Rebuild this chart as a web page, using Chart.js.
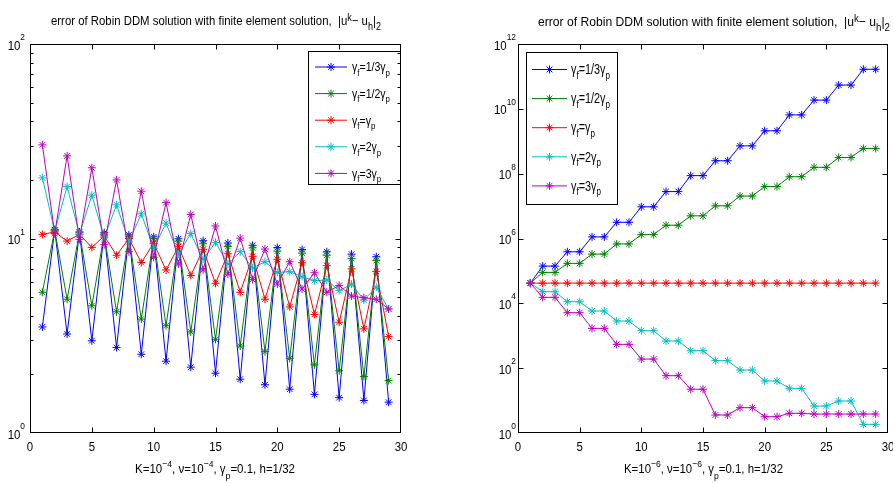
<!DOCTYPE html>
<html>
<head>
<meta charset="utf-8">
<script src="https://cdn.jsdelivr.net/npm/chart.js@4.4.0/dist/chart.umd.min.js"></script>
<style>
html,body{margin:0;padding:0;background:#fff;}
#wrap{position:relative;width:893px;height:483px;overflow:hidden;background:#fff;}
#wrap canvas{position:absolute;top:0;}
</style>
</head>
<body>
<div id="wrap">
  <canvas id="leftPlot" width="446" height="483" style="left:0"></canvas>
  <canvas id="rightPlot" width="447" height="483" style="left:446px"></canvas>
</div>
<script>

// ---- data ----
let iterations = [1,2,3,4,5,6,7,8,9,10,11,12,13,14,15,16,17,18,19,20,21,22,23,24,25,26,27,28,29];
let xTickValues = [0,5,10,15,20,25,30];
let leftDecades = [0,1,2];
let rightDecades = [0,2,4,6,8,10,12];

let seriesNames = ["γ_f=1/3γ_p","γ_f=1/2γ_p","γ_f=γ_p","γ_f=2γ_p","γ_f=3γ_p"];
let seriesColors = ["#0000ff","#008000","#ff0000","#00bfbf","#bf00bf"];

let titleText = "error of Robin DDM solution with finite element solution,  |u^k− u_h|_2";
let leftXLabel = "K=10^{−4}, ν=10^{−4}, γ_p=0.1, h=1/32";
let rightXLabel = "K=10^{−6}, ν=10^{−6}, γ_p=0.1, h=1/32";

// left panel, K = 1e-4
let leftThird  = [3.51,11.1,3.23,10.8,2.98,10.7,2.75,10.45,2.54,10.2,2.34,9.97,2.18,9.74,2.03,9.48,1.89,9.23,1.77,8.98,1.68,8.78,1.58,8.55,1.52,8.31,1.47,8.06,1.44];
let leftHalf   = [5.29,11.0,4.87,10.7,4.51,10.5,4.2,10.2,3.85,10.0,3.56,9.7,3.31,9.4,3.03,9.1,2.8,8.95,2.62,8.6,2.42,8.4,2.24,8.2,2.09,7.9,1.95,7.7,1.86];
let leftSame   = [10.5,10.8,9.7,10.5,9.0,10.3,8.2,10.0,7.52,9.45,6.89,9.08,6.45,8.8,5.88,8.35,5.29,8.1,4.87,7.82,4.45,7.51,4.07,7.25,3.71,6.98,3.43,6.78,3.13];
let leftDouble = [20.5,10.9,18.5,10.5,16.7,10.1,14.9,9.6,13.4,8.9,12.0,8.3,10.6,7.82,9.55,7.4,8.55,7.05,7.6,6.7,6.75,6.36,6.07,6.12,5.39,5.83,4.83,5.62,4.34];
let leftTriple = [30.3,10.6,26.6,9.9,23.1,9.3,20.0,8.55,17.5,8.0,15.3,7.4,13.3,6.9,11.6,6.55,10.05,6.15,8.83,5.83,7.6,5.5,6.67,5.29,5.74,5.06,4.96,4.87,4.34];

// right panel, K = 1e-6
let rightThird  = [4.2e4,1.41e5,1.41e5,3.89e5,3.89e5,1.12e6,1.12e6,3.16e6,3.16e6,9.5e6,9.5e6,2.8e7,2.8e7,8.7e7,8.7e7,2.5e8,2.5e8,7.2e8,7.2e8,2.1e9,2.1e9,6.5e9,6.5e9,1.86e10,1.86e10,5.4e10,5.4e10,1.66e11,1.66e11];
let rightHalf   = [4.2e4,9.0e4,9.0e4,1.71e5,1.71e5,3.3e5,3.3e5,6.8e5,6.8e5,1.32e6,1.32e6,2.57e6,2.57e6,5.0e6,5.0e6,1.02e7,1.02e7,2.04e7,2.04e7,4.0e7,4.0e7,8.05e7,8.05e7,1.57e8,1.57e8,3.16e8,3.16e8,6.0e8,6.0e8];
let rightSame   = [4.2e4,4.2e4,4.2e4,4.2e4,4.2e4,4.2e4,4.2e4,4.2e4,4.2e4,4.2e4,4.2e4,4.2e4,4.2e4,4.2e4,4.2e4,4.2e4,4.2e4,4.2e4,4.2e4,4.2e4,4.2e4,4.2e4,4.2e4,4.2e4,4.2e4,4.2e4,4.2e4,4.2e4,4.2e4];
let rightDouble = [4.2e4,2.29e4,2.29e4,1.12e4,1.12e4,5.8e3,5.8e3,2.85e3,2.85e3,1.43e3,1.43e3,689,689,346,346,170,170,87.7,87.7,40.2,40.2,23.9,23.9,6.8,6.8,9.7,9.7,1.85,1.85];
let rightTriple = [4.2e4,1.53e4,1.53e4,5.14e3,5.14e3,1.69e3,1.69e3,543,543,191,191,58.6,58.6,22.4,22.4,3.59,3.59,6.04,6.04,3.18,3.18,4.05,4.05,3.85,3.85,3.85,3.85,3.85,3.85];


// ---- tiny tex-ish text: ^x / ^{..} raised, _x / _{..} lowered ----
const FAMILY = '"Liberation Sans", Arial, Helvetica, sans-serif';

function font(size){ return size + "px " + FAMILY; }

function parseTex(s){
   let out = [], buf = "", i = 0;
   while(i < s.length){
      let c = s[i];
      if(c === "^" || c === "_"){
         if(buf){ out.push([buf,""]); buf = ""; }
         let t;
         if(s[i+1] === "{"){
            let j = s.indexOf("}", i+2);
            t = s.slice(i+2, j);
            i = j + 1;
         }else{
            t = s[i+1];
            i += 2;
         }
         out.push([t, c === "^" ? "sup" : "sub"]);
      }else{
         buf += c;
         i++;
      }
   }
   if(buf) out.push([buf,""]);
   return out;
}

function texWidth(ctx, parts, size, small){
   let w = 0;
   parts.forEach(function(p){
      ctx.font = font(p[1] ? size*small : size);
      w += ctx.measureText(p[0]).width;
   });
   return w;
}

// o: align, width (target) or sx, supDy, subDy, small
function drawTex(ctx, str, x, y, size, o){
   let parts = parseTex(str);
   let small = o.small || 0.75;
   let nat = texWidth(ctx, parts, size, small);
   let sx = o.width ? o.width / nat : (o.sx || 1);
   let w = nat * sx;
   let x0 = o.align === "center" ? x - w/2 : (o.align === "right" ? x - w : x);
   ctx.save();
   ctx.translate(x0, y);
   ctx.scale(sx, 1);
   ctx.fillStyle = "#000";
   ctx.textAlign = "left";
   ctx.textBaseline = "alphabetic";
   let cx = 0;
   parts.forEach(function(p){
      let fs = p[1] ? size*small : size;
      ctx.font = font(fs);
      let dy = p[1] === "sup" ? (o.supDy || -size*0.45) : (p[1] === "sub" ? (o.subDy || size*0.3) : 0);
      ctx.fillText(p[0], cx, dy);
      cx += ctx.measureText(p[0]).width;
   });
   ctx.restore();
   return sx;
}

function drawStar(ctx, x, y, r){
   let d = r * Math.SQRT1_2;
   ctx.beginPath();
   ctx.moveTo(x - r, y); ctx.lineTo(x + r, y);
   ctx.moveTo(x, y - r); ctx.lineTo(x, y + r);
   ctx.moveTo(x - d, y - d); ctx.lineTo(x + d, y + d);
   ctx.moveTo(x - d, y + d); ctx.lineTo(x + d, y - d);
   ctx.stroke();
}


// ---- frame, ticks, labels, legend (MATLAB look) ----
function framePlugin(cfg){

   return {
      id: "matlabFrame",
      afterDraw: function(chart){

         let ctx = chart.ctx;
         let area = chart.chartArea;
         let xs = chart.scales.x;
         let ys = chart.scales.y;

         ctx.save();
         ctx.translate(-cfg.ox, 0);   // work in page coordinates
         let ox = cfg.ox;

         let L = Math.round(area.left + ox) + 0.5;
         let R = Math.round(area.right + ox) - 0.5;
         let T = Math.round(area.top) + 0.5;
         let B = Math.round(area.bottom) - 0.5;

         // legend box
         let lg = cfg.legend;
         ctx.fillStyle = "#fff";
         ctx.fillRect(lg.x1, lg.y1, lg.x2 - lg.x1, lg.y2 - lg.y1);
         ctx.strokeStyle = "#000";
         ctx.lineWidth = 1;
         ctx.strokeRect(Math.round(lg.x1)+0.5, Math.round(lg.y1)+0.5,
                        Math.round(lg.x2 - lg.x1), Math.round(lg.y2 - lg.y1));

         let legendSx = null;
         seriesNames.forEach(function(name, i){
            let yy = lg.rowY + i * lg.rowStep;
            ctx.strokeStyle = seriesColors[i];
            ctx.lineWidth = 1;
            ctx.beginPath();
            ctx.moveTo(lg.lineX1, yy);
            ctx.lineTo(lg.lineX2, yy);
            ctx.stroke();
            drawStar(ctx, (lg.lineX1 + lg.lineX2)/2, yy, 4);
            let o = { align: "left", subDy: lg.size*0.33, small: 0.75 };
            if(legendSx === null) o.width = lg.textW; else o.sx = legendSx;
            let s = drawTex(ctx, name, lg.textX, yy + lg.size*0.34, lg.size, o);
            if(legendSx === null) legendSx = s;
         });

         // axes box
         ctx.strokeStyle = "#000";
         ctx.lineWidth = 1;
         ctx.strokeRect(L, T, R - L, B - T);

         // x ticks (inward, top and bottom) + labels
         ctx.beginPath();
         xTickValues.forEach(function(v){
            let px = Math.round(xs.getPixelForValue(v) + ox) + 0.5;
            if(v === 0) px = L;
            if(v === 30) px = R;
            ctx.moveTo(px, B); ctx.lineTo(px, B - 5);
            ctx.moveTo(px, T); ctx.lineTo(px, T + 5);
         });
         // y ticks
         cfg.decades.forEach(function(e){
            let py = Math.round(ys.getPixelForValue(Math.pow(10, e))) + 0.5;
            if(e === cfg.decades[0]) py = B;
            if(e === cfg.decades[cfg.decades.length-1]) py = T;
            ctx.moveTo(L, py); ctx.lineTo(L + 5, py);
            ctx.moveTo(R, py); ctx.lineTo(R - 5, py);
         });
         if(cfg.minor){
            for(let e = cfg.decades[0]; e < cfg.decades[cfg.decades.length-1]; e++){
               for(let m = 2; m <= 9; m++){
                  let py = Math.round(ys.getPixelForValue(m * Math.pow(10, e))) + 0.5;
                  ctx.moveTo(L, py); ctx.lineTo(L + 3, py);
                  ctx.moveTo(R, py); ctx.lineTo(R - 3, py);
               }
            }
         }
         ctx.stroke();

         xTickValues.forEach(function(v){
            let px = xs.getPixelForValue(v) + ox;
            drawTex(ctx, String(v), px, cfg.xTickY, cfg.tickSize, { align: "center", sx: cfg.tickSx });
         });

         cfg.decades.forEach(function(e){
            let py = ys.getPixelForValue(Math.pow(10, e));
            let right = area.left + ox - cfg.yLabelGap;
            ctx.font = font(cfg.expSize);
            let ew = ctx.measureText(String(e)).width * cfg.tickSx;
            drawTex(ctx, "10", right - ew, py + 5.5, cfg.tickSize, { align: "right", sx: cfg.tickSx });
            drawTex(ctx, String(e), right - ew, py - 4, cfg.expSize, { align: "left", sx: cfg.tickSx });
         });

         // title and x label
         let t = cfg.title;
         drawTex(ctx, titleText, t.x, t.y, t.size, { align: "center", width: t.width, supDy: -t.size*0.33, subDy: t.size*0.38, small: 0.8 });
         let xl = cfg.xlabel;
         drawTex(ctx, cfg.xlabelText, xl.x, xl.y, xl.size, { align: "center", width: xl.width, supDy: -xl.size*0.5, subDy: xl.size*0.45, small: 0.75 });

         ctx.restore();
      }
   };

}


function makeChart(id, series, cfg){

   let datasets = series.map(function(vals, i){
      return {
         label: seriesNames[i],
         data: iterations.map(function(k, j){ return { x: k, y: vals[j] }; }),
         borderColor: seriesColors[i],
         backgroundColor: seriesColors[i],
         pointBorderColor: seriesColors[i],
         borderWidth: 1,
         pointStyle: "star",
         pointRadius: 4,
         pointBorderWidth: 1,
         pointHoverRadius: 4,
         tension: 0,
         fill: false,
         order: 5 - i
      };
   });

   return new Chart(document.getElementById(id), {
      type: "line",
      data: { datasets: datasets },
      options: {
         responsive: false,
         animation: false,
         devicePixelRatio: 1,
         events: [],
         layout: { padding: { top: 44, right: cfg.padRight, bottom: 0, left: 0 } },
         plugins: {
            legend: { display: false },
            tooltip: { enabled: false }
         },
         scales: {
            x: {
               type: "linear", min: 0, max: 30,
               ticks: { display: false },
               grid: { display: false },
               border: { display: false },
               afterFit: function(s){ s.height = 50; }
            },
            y: {
               type: "logarithmic",
               min: Math.pow(10, cfg.decades[0]),
               max: Math.pow(10, cfg.decades[cfg.decades.length-1]),
               ticks: { display: false },
               grid: { display: false },
               border: { display: false },
               afterFit: function(s){ s.width = cfg.axisWidth; }
            }
         }
      },
      plugins: [framePlugin(cfg)]
   });

}


makeChart("leftPlot",
   [leftThird, leftHalf, leftSame, leftDouble, leftTriple],
   {
      ox: 0, axisWidth: 30, padRight: 45,
      decades: leftDecades, minor: true,
      tickSize: 13, expSize: 9.5, tickSx: 0.88, xTickY: 451, yLabelGap: 5,
      title: { x: 216, y: 25, size: 12.5, width: 330 },
      xlabel: { x: 215, y: 473, size: 12.5, width: 160 },
      xlabelText: leftXLabel,
      legend: { x1: 308, y1: 51, x2: 400, y2: 184, rowY: 67, rowStep: 26.6,
                lineX1: 315, lineX2: 347, textX: 352, textW: 38, size: 13 }
   });

makeChart("rightPlot",
   [rightThird, rightHalf, rightSame, rightDouble, rightTriple],
   {
      ox: 446, axisWidth: 72, padRight: 3,
      decades: rightDecades, minor: false,
      tickSize: 13, expSize: 9.5, tickSx: 0.88, xTickY: 451, yLabelGap: 2,
      title: { x: 714, y: 26, size: 13, width: 352 },
      xlabel: { x: 703.5, y: 473, size: 12.5, width: 159 },
      xlabelText: rightXLabel,
      legend: { x1: 526, y1: 52, x2: 617, y2: 204, rowY: 69.5, rowStep: 29.1,
                lineX1: 532, lineX2: 567, textX: 571, textW: 39, size: 14 }
   });

</script>
</body>
</html>
